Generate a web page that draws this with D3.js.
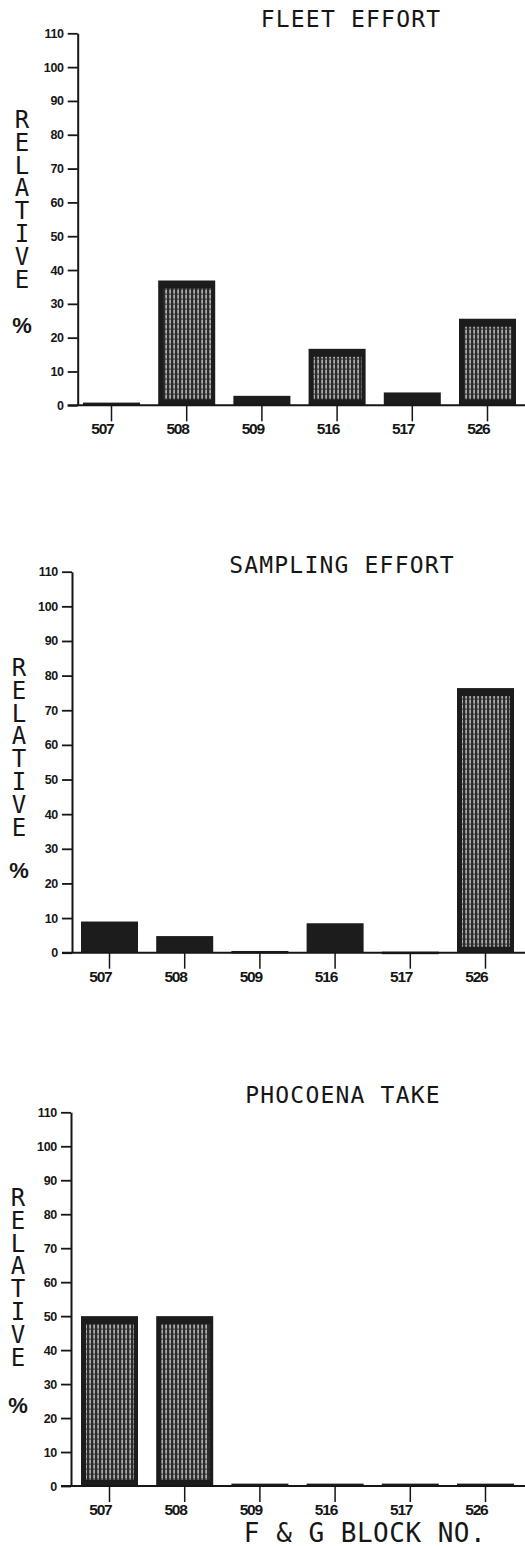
<!DOCTYPE html>
<html>
<head>
<meta charset="utf-8">
<script src="https://cdn.jsdelivr.net/npm/d3@7"></script>
<style>
  html, body { margin: 0; padding: 0; background: #fff; }
  svg { display: block; }
  .stacked { writing-mode: vertical-rl; text-orientation: upright; }
</style>
</head>
<body>
<svg id="chart" width="525" height="1547"></svg>
<script>
// Block numbers along the x axis
const categories = ["507", "508", "509", "516", "517", "526"];

// Relative percentages per block, one series per panel
const fleetEffort    = [0.8, 36.9, 2.8, 16.7, 3.8, 25.6];
const samplingEffort = [9.0, 4.8, 0.5, 8.5, 0.3, 76.4];
const phocoenaTake   = [50, 50, 0.7, 0.7, 0.7, 0.7];

// Axis ticks and text
const yTicks = [0, 10, 20, 30, 40, 50, 60, 70, 80, 90, 100, 110];
const titles = ["FLEET EFFORT", "SAMPLING EFFORT", "PHOCOENA TAKE"];
const yLabelWord = "RELATIVE";
const yLabelUnit = "%";
const xAxisTitle = "F & G BLOCK NO.";

const series = [fleetEffort, samplingEffort, phocoenaTake];

// Panel placement on the page
const layout = [
  { top: 33.3,   base: 405.3, axisX: 77.7, xStart: 78, titleX: 351, titleY: 27,   letterX: 22, letterTop: 106,  unitY: 333 },
  { top: 571.7,  base: 952.7, axisX: 72,   xStart: 76, titleX: 342, titleY: 573,  letterX: 19, letterTop: 654,  unitY: 878 },
  { top: 1112.3, base: 1486,  axisX: 71,   xStart: 76, titleX: 343, titleY: 1103, letterX: 18, letterTop: 1184, unitY: 1413 }
];

const ink = "#161616";
const plotterFont = "'DejaVu Sans Mono', 'Liberation Mono', monospace";
const tickFont = "'Liberation Sans', Arial, sans-serif";

const svg = d3.select("#chart");

// Streaked shading used inside the taller bars
const defs = svg.append("defs");
const pat = defs.append("pattern")
  .attr("id", "streaks")
  .attr("patternUnits", "userSpaceOnUse")
  .attr("width", 4).attr("height", 5);
pat.append("rect").attr("width", 4).attr("height", 5).attr("fill", "#2b2b2b");
pat.append("rect").attr("x", 1.4).attr("y", 0).attr("width", 1.4).attr("height", 3.6).attr("fill", "#e2e2e2");
pat.append("rect").attr("x", 1.6).attr("y", 3.6).attr("width", 1.0).attr("height", 1.4).attr("fill", "#9a9a9a");

series.forEach((values, i) => {
  const L = layout[i];
  const g = svg.append("g");
  const rows = categories.map((c, j) => ({ block: c, value: values[j] }));

  const y = d3.scaleLinear().domain([0, 110]).range([L.base, L.top]);
  const x = d3.scaleBand()
    .domain(categories)
    .range([L.xStart, L.xStart + 443])
    .paddingInner(0.242)
    .paddingOuter(0.0665);

  // Title
  g.append("text")
    .attr("x", L.titleX).attr("y", L.titleY)
    .attr("text-anchor", "middle")
    .attr("font-family", plotterFont)
    .attr("font-size", 23)
    .attr("letter-spacing", 1.2)
    .attr("fill", ink)
    .text(titles[i]);

  // Bars: solid dark frame with streaked interior
  const bars = g.selectAll("g.bar").data(rows).join("g").attr("class", "bar");
  bars.append("rect")
    .attr("x", d => x(d.block))
    .attr("y", d => y(d.value))
    .attr("width", x.bandwidth())
    .attr("height", d => Math.max(2.5, y(0) - y(d.value)))
    .attr("fill", "#1c1c1c");
  bars.filter(d => y(0) - y(d.value) > 40)
    .append("rect")
    .attr("x", d => x(d.block) + 5)
    .attr("y", d => y(d.value) + 8)
    .attr("width", x.bandwidth() - 9)
    .attr("height", d => y(0) - y(d.value) - 14)
    .attr("fill", "url(#streaks)")
    .attr("opacity", 0.9);

  // Y axis
  const yAxis = g.append("g")
    .attr("transform", `translate(${L.axisX},0)`)
    .call(d3.axisLeft(y).tickValues(yTicks).tickSize(10).tickSizeOuter(0).tickPadding(4));
  yAxis.select(".domain").attr("stroke", ink).attr("stroke-width", 2);
  yAxis.selectAll(".tick line").attr("stroke", ink).attr("stroke-width", 1.8);
  yAxis.selectAll(".tick text")
    .attr("font-family", tickFont)
    .attr("font-weight", "bold")
    .attr("font-size", 12.5)
    .attr("letter-spacing", -0.3)
    .attr("fill", ink);

  // Baseline running to the right edge
  g.append("line")
    .attr("x1", L.axisX - 10).attr("x2", 525)
    .attr("y1", y(0)).attr("y2", y(0))
    .attr("stroke", ink).attr("stroke-width", 2);

  // X axis ticks below the baseline, labels ending at each tick
  const xAxis = g.append("g")
    .attr("transform", `translate(0,${y(0)})`)
    .call(d3.axisBottom(x).tickSize(16).tickSizeOuter(0).tickPadding(2));
  xAxis.select(".domain").remove();
  xAxis.selectAll(".tick line").attr("stroke", ink).attr("stroke-width", 1.5);
  xAxis.selectAll(".tick text")
    .attr("text-anchor", "end")
    .attr("dx", 2)
    .attr("dy", 0)
    .attr("y", 29)
    .attr("font-family", tickFont)
    .attr("font-weight", "bold")
    .attr("font-size", 15.5)
    .attr("letter-spacing", -1.2)
    .attr("fill", ink);

  // Stacked y-axis caption, letters upright one under another
  g.append("text")
    .attr("class", "stacked")
    .attr("x", L.letterX)
    .attr("y", L.letterTop)
    .attr("font-family", plotterFont)
    .attr("font-size", 24)
    .attr("letter-spacing", -5.2)
    .attr("fill", ink)
    .text(yLabelWord);
  g.append("text")
    .attr("x", L.letterX).attr("y", L.unitY)
    .attr("text-anchor", "middle")
    .attr("font-family", tickFont)
    .attr("font-weight", "bold")
    .attr("font-size", 22)
    .attr("fill", ink)
    .text(yLabelUnit);

  if (i === series.length - 1) {
    g.append("text")
      .attr("x", 365).attr("y", 1541.5)
      .attr("text-anchor", "middle")
      .attr("font-family", plotterFont)
      .attr("font-size", 26)
      .attr("letter-spacing", 0.5)
      .attr("fill", ink)
      .text(xAxisTitle);
  }
});
</script>
</body>
</html>
